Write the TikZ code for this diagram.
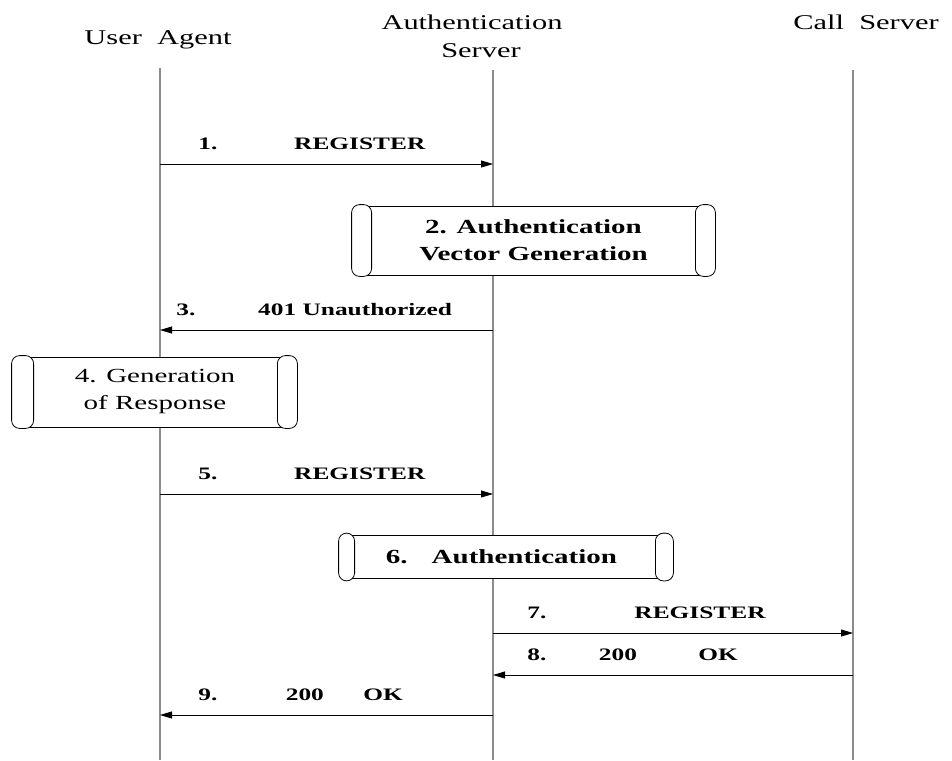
\documentclass[tikz,border=0pt]{standalone}
\usepackage{fontspec}
\setmainfont{Liberation Serif}[FakeStretch=1.45]
\usepackage{tikz}
\usetikzlibrary{arrows.meta}

\begin{document}
\begin{tikzpicture}[x=1pt, y=-1pt,
	head/.style={font=\fontsize{21}{28}\selectfont, align=center, inner sep=0pt},
	life/.style={draw=gray!90, line width=1.6pt},
	msg/.style={draw=black, line width=0.8pt, -{Triangle[length=12pt,width=7pt]}},
	lbl/.style={font=\fontsize{17.5}{20}\selectfont\bfseries, anchor=base, yshift=15pt, inner sep=0pt},
	procbox/.style={draw, line width=0.8pt, fill=white, align=center, inner sep=0pt, font=\fontsize{20}{27}\selectfont\bfseries},
	pill/.style={draw, line width=0.8pt, fill=white, rounded corners=8pt}]
	\useasboundingbox (0,0) rectangle (952,760);
	% participants
	\node[head] (UA) at (158,40) {User\ \ Agent};
	\node[head] (AS) at (472,36) {Authentication\\\hspace*{18pt}Server};
	\node[head] (CS) at (866,22) {Call\ \ Server};
	\coordinate (UAtop) at (160,68);  \coordinate (UAbot) at (160,760);
	\coordinate (AStop) at (493,70);  \coordinate (ASbot) at (493,760);
	\coordinate (CStop) at (853,70);  \coordinate (CSbot) at (853,760);
	\draw[life] (UAtop) -- (UAbot);
	\draw[life] (AStop) -- (ASbot);
	\draw[life] (CStop) -- (CSbot);
	% message end points
	\coordinate (ua1) at (160,164); \coordinate (as1) at (493,164);
	\coordinate (ua3) at (160,330); \coordinate (as3) at (493,330);
	\coordinate (ua5) at (160,494); \coordinate (as5) at (493,494);
	\coordinate (as7) at (493,633); \coordinate (cs7) at (853,633);
	\coordinate (as8) at (493,675); \coordinate (cs8) at (853,675);
	\coordinate (ua9) at (160,715); \coordinate (as9) at (493,715);
	% messages
	\draw[msg] (ua1) -- (as1) node[pos=0.144, lbl] {1.} node[pos=0.6, lbl] {REGISTER};
	\draw[msg] (as3) -- (ua3) node[pos=0.922, lbl] {3.} node[pos=0.414, lbl] {401 Unauthorized};
	\draw[msg] (ua5) -- (as5) node[pos=0.144, lbl] {5.} node[pos=0.6, lbl] {REGISTER};
	\draw[msg] (as7) -- (cs7) node[pos=0.122, lbl] {7.} node[pos=0.575, lbl] {REGISTER};
	\draw[msg] (cs8) -- (as8) node[pos=0.878, lbl] {8.} node[pos=0.653, lbl] {200} node[pos=0.375, lbl] {OK};
	\draw[msg] (as9) -- (ua9) node[pos=0.856, lbl] {9.} node[pos=0.565, lbl] {200} node[pos=0.33, lbl] {OK};
	% processing boxes
	\node[procbox, minimum width=343pt, minimum height=69pt] (vecgen) at (533.5,240.5) {2. Authentication\\Vector Generation};
	\draw[pill] ([xshift=-10pt,yshift=1pt]vecgen.north west) rectangle ([xshift=10pt,yshift=-1pt]vecgen.south west);
	\draw[pill] ([xshift=-10pt,yshift=1pt]vecgen.north east) rectangle ([xshift=10pt,yshift=-1pt]vecgen.south east);
	\node[procbox, font=\fontsize{20}{27}\selectfont, minimum width=264pt, minimum height=70pt] (resp) at (155,392) {4. Generation\\of Response};
	\draw[pill] ([xshift=-11pt,yshift=1pt]resp.north west) rectangle ([xshift=11pt,yshift=-1pt]resp.south west);
	\draw[pill] ([xshift=-10pt,yshift=1pt]resp.north east) rectangle ([xshift=10pt,yshift=-1pt]resp.south east);
	\node[procbox, minimum width=317pt, minimum height=43pt] (auth) at (505.5,557) {6.\hspace{24pt}Authentication\hspace*{8pt}};
	\draw[pill] ([xshift=-8pt,yshift=2pt]auth.north west) rectangle ([xshift=8pt,yshift=-2pt]auth.south west);
	\draw[pill] ([xshift=-9pt,yshift=2pt]auth.north east) rectangle ([xshift=9pt,yshift=-2pt]auth.south east);
\end{tikzpicture}
\end{document}
